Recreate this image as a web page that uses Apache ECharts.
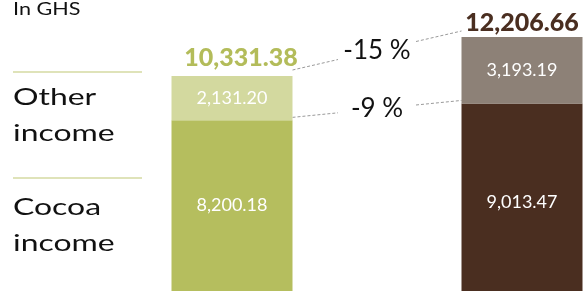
<!DOCTYPE html>
<html>
<head>
<meta charset="utf-8">
<script src="https://cdn.jsdelivr.net/npm/echarts@6/dist/echarts.min.js"></script>
<style>
  html, body { margin: 0; padding: 0; background: #fff; }
  #chart { width: 587px; height: 291px; }
</style>
</head>
<body>
<div id="chart"></div>
<script>
// data
const years = ['Before', 'After'];
const cocoaIncome = [8200.18, 9013.47];
const otherIncome = [2131.20, 3193.19];
const totals = [10331.38, 12206.66];
const changeLabels = ['-15 %', '-9 %'];

const cocoaColors = ['#b5be5e', '#4a2e20'];
const otherColors = ['#d3d99f', '#8d8177'];
const totalColors = ['#b3bc5a', '#4a2e20'];
const FONT = 'Lato, "Open Sans", sans-serif';

const fmt = (v) => v.toLocaleString('en-US', {minimumFractionDigits: 2, maximumFractionDigits: 2});

const chart = echarts.init(document.getElementById('chart'));

const innerLabel = {
  show: true,
  position: 'inside',
  color: '#fff',
  fontFamily: FONT,
  fontSize: 18,
  formatter: (p) => fmt(p.value)
};

const option = {
  animation: false,
  grid: {left: 232, right: 65, top: 37, bottom: 0},
  xAxis: {
    type: 'category',
    data: years,
    boundaryGap: false,
    show: false
  },
  yAxis: {
    type: 'value',
    min: 0,
    max: 12206.66,
    show: false
  },
  series: [
    {
      name: 'Cocoa income',
      type: 'bar',
      stack: 'inc',
      clip: false,
      barWidth: 121,
      data: cocoaIncome.map((v, i) => ({
        value: v,
        itemStyle: {color: cocoaColors[i]},
        label: {offset: [0, i === 1 ? 5 : 0]}
      })),
      label: innerLabel
    },
    {
      name: 'Other income',
      type: 'bar',
      stack: 'inc',
      clip: false,
      barWidth: 121,
      data: otherIncome.map((v, i) => ({value: v, itemStyle: {color: otherColors[i]}})),
      label: innerLabel
    },
    {
      name: 'Total',
      type: 'bar',
      stack: 'inc',
      clip: false,
      barWidth: 121,
      data: totals.map((t, i) => ({
        value: 0,
        label: {color: totalColors[i], offset: i === 0 ? [9, 2] : [0, 6]}
      })),
      label: {
        show: true,
        position: 'top',
        distance: 8,
        fontFamily: FONT,
        fontWeight: 900,
        fontSize: 25,
        formatter: (p) => fmt(totals[p.dataIndex])
      }
    }
  ]
};
chart.setOption(option);

// left-hand legend texts and rules
const graphics = [
  {type: 'text', x: 13, y: 0, scaleX: 1.2,
    style: {text: 'In GHS', fontFamily: FONT, fontSize: 18, fill: '#111', verticalAlign: 'top'}},
  {type: 'line', shape: {x1: 13, y1: 72, x2: 142, y2: 72}, style: {stroke: '#d4daa2', lineWidth: 1.5}},
  {type: 'line', shape: {x1: 13, y1: 178, x2: 142, y2: 178}, style: {stroke: '#d4daa2', lineWidth: 1.5}},
  {type: 'text', x: 13, y: 79, scaleX: 1.33,
    style: {text: 'Other\nincome', fontFamily: FONT, fontSize: 24, lineHeight: 36, fill: '#111', verticalAlign: 'top'}},
  {type: 'text', x: 13, y: 189, scaleX: 1.33,
    style: {text: 'Cocoa\nincome', fontFamily: FONT, fontSize: 24, lineHeight: 36, fill: '#111', verticalAlign: 'top'}}
];

// connectors between the two bars, with a gap for the change text
const half = 60.5;
const levels = [
  {a: totals[0], b: totals[1], off: -6},
  {a: cocoaIncome[0], b: cocoaIncome[1], off: -3}
];
levels.forEach((lv, i) => {
  const p1 = chart.convertToPixel({xAxisIndex: 0, yAxisIndex: 0}, [0, lv.a]);
  const p2 = chart.convertToPixel({xAxisIndex: 0, yAxisIndex: 0}, [1, lv.b]);
  const x1 = p1[0] + half, y1 = p1[1] + lv.off;
  const x2 = p2[0] - half, y2 = p2[1] + lv.off;
  const mx = (x1 + x2) / 2, my = (y1 + y2) / 2;
  const slope = (y2 - y1) / (x2 - x1);
  const gap = 39;
  const dash = {stroke: '#999', lineWidth: 1, lineDash: [3, 2]};
  graphics.push({type: 'line', shape: {x1: x1, y1: y1, x2: mx - gap, y2: my - gap * slope}, style: dash});
  graphics.push({type: 'line', shape: {x1: mx + gap, y1: my + gap * slope, x2: x2, y2: y2}, style: dash});
  graphics.push({
    type: 'text', x: mx, y: my,
    style: {text: changeLabels[i], fontFamily: FONT, fontSize: 26, fill: '#111', align: 'center', verticalAlign: 'middle'}
  });
});
chart.setOption({graphic: graphics});
</script>
</body>
</html>
